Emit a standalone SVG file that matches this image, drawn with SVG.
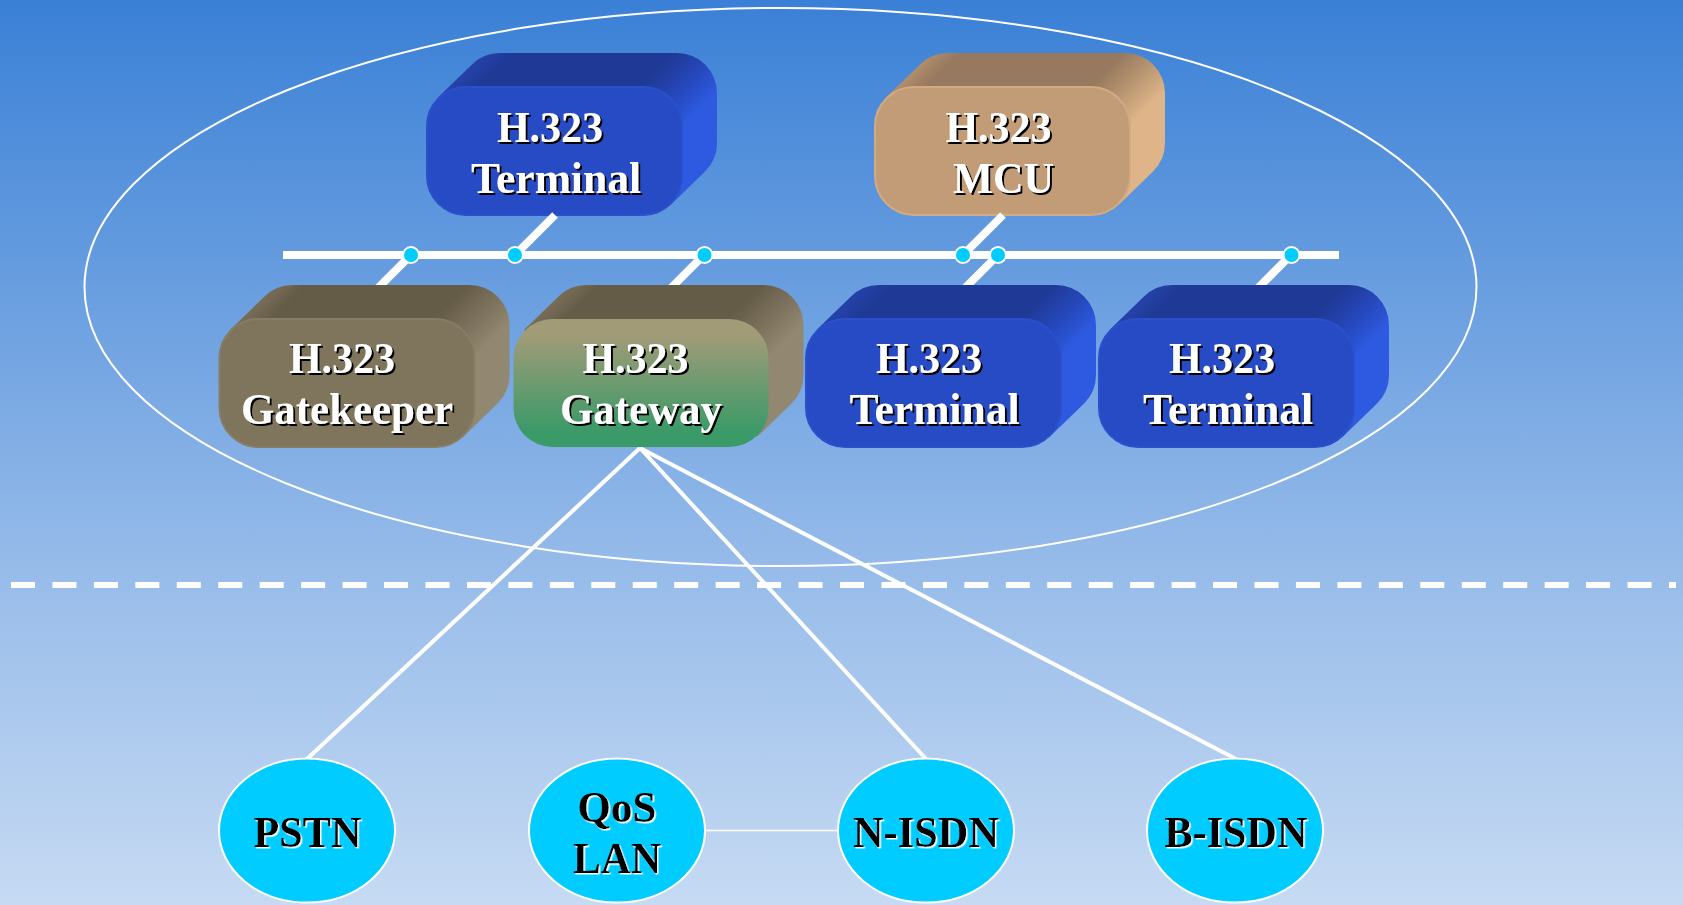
<svg xmlns="http://www.w3.org/2000/svg" xmlns:xlink="http://www.w3.org/1999/xlink" width="1683" height="905" viewBox="0 0 1683 905">
<style>
text{font-family:"Liberation Serif","Times New Roman",serif;font-weight:bold;font-size:44.5px;text-anchor:middle}
.w{fill:#fff;filter:url(#sb)}
.k{fill:#000;filter:url(#sw)}
.bus{stroke:#fff;stroke-width:8;fill:none}
.stub{stroke:#fff;stroke-width:8;fill:none}
.lnk{stroke:#fff;stroke-width:4;fill:none}
.dot{fill:#00ccff;stroke:#fff;stroke-width:2}
.cloud{fill:#00ccff;stroke:#fff;stroke-width:2}
</style>
<defs>
<linearGradient id="bg" x1="0" y1="0" x2="0" y2="1"><stop offset="0" stop-color="#3a80d6"/><stop offset="0.646" stop-color="#99bdea"/><stop offset="1" stop-color="#c6daf3"/></linearGradient>
<linearGradient id="gw" gradientUnits="userSpaceOnUse" x1="0" y1="16" x2="0" y2="114"><stop offset="0" stop-color="#a29b78"/><stop offset="1" stop-color="#3a9a68"/></linearGradient>
<linearGradient id="hb" gradientUnits="userSpaceOnUse" x1="10" y1="10" x2="148" y2="148"><stop offset="0" stop-color="#2543ac"/><stop offset="0.12" stop-color="#1f3a96"/><stop offset="0.71" stop-color="#1f3a96"/><stop offset="0.86" stop-color="#2547bb"/><stop offset="1" stop-color="#2d5ae0"/></linearGradient>
<linearGradient id="hm" gradientUnits="userSpaceOnUse" x1="10" y1="10" x2="148" y2="148"><stop offset="0" stop-color="#b4906e"/><stop offset="0.12" stop-color="#96795e"/><stop offset="0.71" stop-color="#96795e"/><stop offset="0.86" stop-color="#ba9773"/><stop offset="1" stop-color="#dfb488"/></linearGradient>
<linearGradient id="hg" gradientUnits="userSpaceOnUse" x1="10" y1="10" x2="148" y2="148"><stop offset="0" stop-color="#7b705a"/><stop offset="0.12" stop-color="#655c48"/><stop offset="0.71" stop-color="#655c48"/><stop offset="0.86" stop-color="#7b715c"/><stop offset="1" stop-color="#928770"/></linearGradient>
<path id="hull" d="M11.7 11.7L45.7 -21.3A40 40 0 0 1 74 -33H251A40 40 0 0 1 291 7V57A40 40 0 0 1 279.3 85.3L245.3 118.3L40 60Z"/>
<rect id="face" x="1" y="1" width="255" height="128" rx="39" ry="39"/>
<filter id="sb" x="-10%" y="-10%" width="120%" height="125%"><feDropShadow dx="2" dy="2" stdDeviation="0" flood-color="#000"/></filter>
<filter id="sw" x="-10%" y="-10%" width="120%" height="125%"><feDropShadow dx="1.5" dy="1.5" stdDeviation="0" flood-color="#fff"/></filter>
</defs>
<rect id="background" width="1683" height="905" fill="url(#bg)"/>
<ellipse id="boundary" cx="780.5" cy="287" rx="696" ry="279" fill="none" stroke="#fff" stroke-width="2"/>
<line id="divider" x1="11" y1="585" x2="1676" y2="585" stroke="#fff" stroke-width="6" stroke-dasharray="24 17.45"/>
<g id="terminal-1">
<g transform="translate(426 86)"><use xlink:href="#hull" href="#hull" fill="url(#hb)"/><use xlink:href="#face" href="#face" fill="#274bc4" stroke="#2a50cc" stroke-width="2"/></g>
<text class="w" x="550" y="142" textLength="106" lengthAdjust="spacingAndGlyphs">H.323</text><text class="w" x="556" y="193" textLength="170" lengthAdjust="spacingAndGlyphs">Terminal</text>
</g>
<g id="mcu">
<g transform="translate(874 86)"><use xlink:href="#hull" href="#hull" fill="url(#hm)"/><use xlink:href="#face" href="#face" fill="#c19c76" stroke="#d3aa82" stroke-width="2"/></g>
<text class="w" x="998.5" y="142" textLength="106" lengthAdjust="spacingAndGlyphs">H.323</text><text class="w" x="1003.5" y="193" textLength="101" lengthAdjust="spacingAndGlyphs">MCU</text>
</g>
<g id="connectors">
<line class="bus" x1="283" y1="255" x2="1339" y2="255"/>
<line class="stub" x1="515" y1="255" x2="555" y2="215"/>
<line class="stub" x1="963" y1="255" x2="1003" y2="215"/>
<line class="stub" x1="411" y1="255" x2="378" y2="288"/>
<line class="stub" x1="704" y1="255" x2="671" y2="288"/>
<line class="stub" x1="998" y1="255" x2="965" y2="288"/>
<line class="stub" x1="1291" y1="255" x2="1258" y2="288"/>
<line class="lnk" x1="640" y1="448" x2="307" y2="759"/>
<line class="lnk" x1="640" y1="448" x2="926" y2="759"/>
<line class="lnk" x1="640" y1="448" x2="1236" y2="759"/>
<line x1="705" y1="830.5" x2="838" y2="830.5" stroke="#fff" stroke-width="1.5"/>
<circle class="dot" cx="411" cy="255" r="8"/>
<circle class="dot" cx="515" cy="255" r="8"/>
<circle class="dot" cx="704.5" cy="255" r="8"/>
<circle class="dot" cx="963" cy="255" r="8"/>
<circle class="dot" cx="998" cy="255" r="8"/>
<circle class="dot" cx="1291.5" cy="255" r="8"/>
</g>
<g id="gatekeeper">
<g transform="translate(218.5 318)"><use xlink:href="#hull" href="#hull" fill="url(#hg)"/><use xlink:href="#face" href="#face" fill="#7f745c" stroke="#877c64" stroke-width="2"/></g>
<text class="w" x="342" y="373" textLength="106" lengthAdjust="spacingAndGlyphs">H.323</text><text class="w" x="347" y="424" textLength="212" lengthAdjust="spacingAndGlyphs">Gatekeeper</text>
</g>
<g id="gateway">
<g transform="translate(512.5 318)"><use xlink:href="#hull" href="#hull" fill="url(#hg)"/><use xlink:href="#face" href="#face" fill="url(#gw)"/></g>
<text class="w" x="635.5" y="373" textLength="106" lengthAdjust="spacingAndGlyphs">H.323</text><text class="w" x="641" y="424" textLength="162" lengthAdjust="spacingAndGlyphs">Gateway</text>
</g>
<g id="terminal-2">
<g transform="translate(805 318)"><use xlink:href="#hull" href="#hull" fill="url(#hb)"/><use xlink:href="#face" href="#face" fill="#274bc4" stroke="#2a50cc" stroke-width="2"/></g>
<text class="w" x="929" y="373" textLength="106" lengthAdjust="spacingAndGlyphs">H.323</text><text class="w" x="934.5" y="424" textLength="170" lengthAdjust="spacingAndGlyphs">Terminal</text>
</g>
<g id="terminal-3">
<g transform="translate(1098 318)"><use xlink:href="#hull" href="#hull" fill="url(#hb)"/><use xlink:href="#face" href="#face" fill="#274bc4" stroke="#2a50cc" stroke-width="2"/></g>
<text class="w" x="1222" y="373" textLength="106" lengthAdjust="spacingAndGlyphs">H.323</text><text class="w" x="1228" y="424" textLength="170" lengthAdjust="spacingAndGlyphs">Terminal</text>
</g>
<g id="pstn"><ellipse class="cloud" cx="307" cy="830.5" rx="88" ry="72"/><text class="k" x="307.5" y="847" textLength="108" lengthAdjust="spacingAndGlyphs">PSTN</text></g>
<g id="qos-lan"><ellipse class="cloud" cx="617" cy="830.5" rx="88" ry="72"/><text class="k" x="617" y="822" textLength="79" lengthAdjust="spacingAndGlyphs">QoS</text><text class="k" x="617" y="873" textLength="88" lengthAdjust="spacingAndGlyphs">LAN</text></g>
<g id="n-isdn"><ellipse class="cloud" cx="926" cy="830.5" rx="88" ry="72"/><text class="k" x="926" y="847" textLength="146" lengthAdjust="spacingAndGlyphs">N-ISDN</text></g>
<g id="b-isdn"><ellipse class="cloud" cx="1235" cy="830.5" rx="88" ry="72"/><text class="k" x="1236" y="847" textLength="143" lengthAdjust="spacingAndGlyphs">B-ISDN</text></g>
</svg>
